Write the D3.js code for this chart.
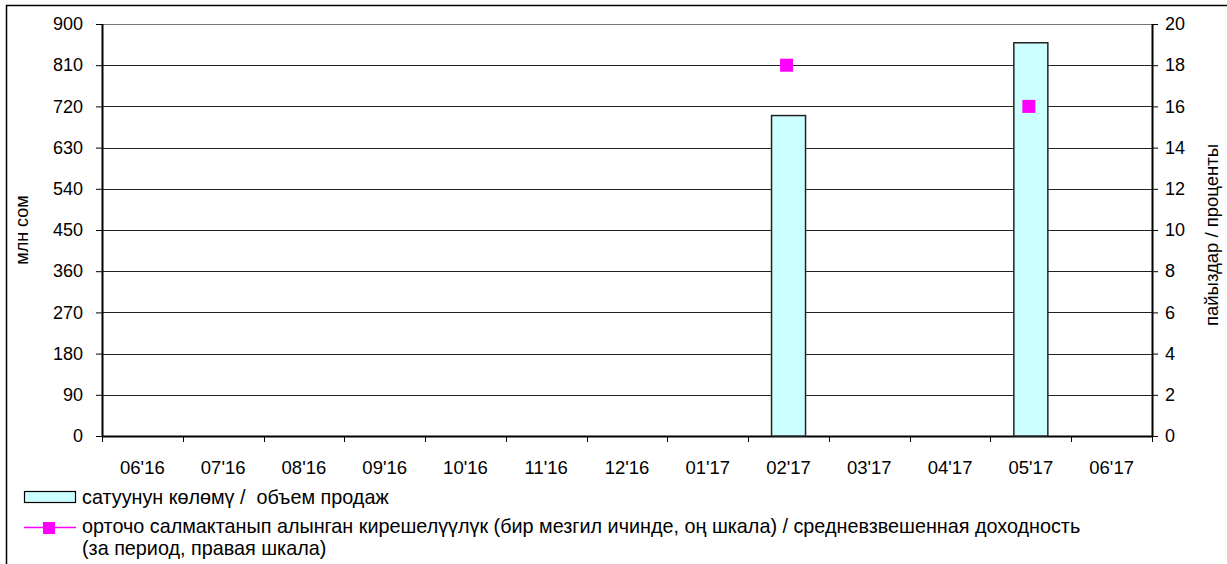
<!DOCTYPE html>
<html>
<head>
<meta charset="utf-8">
<script src="https://cdn.jsdelivr.net/npm/d3@7"></script>
<style>
  body { margin: 0; background: #fff; }
  svg { font-family: "Liberation Sans", Arial, sans-serif; }
  text { white-space: pre; }
</style>
</head>
<body>
<div class="canvas"></div>
<script>
// data
const categories = ["06'16", "07'16", "08'16", "09'16", "10'16", "11'16", "12'16",
  "01'17", "02'17", "03'17", "04'17", "05'17", "06'17"];
const salesVolume = [null, null, null, null, null, null, null, null, 700, null, null, 859, null];
const avgYield = [null, null, null, null, null, null, null, null, 18.0, null, null, 16.0, null];
const leftTicks = [0, 90, 180, 270, 360, 450, 540, 630, 720, 810, 900];
const rightTicks = [0, 2, 4, 6, 8, 10, 12, 14, 16, 18, 20];
const leftTitle = 'млн сом';
const rightTitle = 'пайыздар / проценты';
const barLegend = 'сатуунун көлөмү /  объем продаж';
const lineLegend = ['орточо салмактанып алынган кирешелүүлүк (бир мезгил ичинде, оң шкала) / средневзвешенная доходность',
  '(за период, правая шкала)'];

const width = 1227;
const height = 564;

const svg = d3.select('.canvas')
  .append('svg')
  .attr('width', width)
  .attr('height', height);

// outer frame (top + left edges visible)
svg.append('path')
  .attr('d', `M6.5,${height} V5.5 H${width}`)
  .attr('fill', 'none')
  .attr('stroke', '#000')
  .attr('stroke-width', 1.5);

/*--------------------------------
  SCALES
--------------------------------*/
const margin = { top: 24, right: 75, bottom: 128, left: 102 };
const plotW = width - margin.left - margin.right;
const plotH = height - margin.top - margin.bottom;

const x = d3.scaleBand()
  .domain(categories)
  .range([0, plotW])
  .paddingInner(0)
  .paddingOuter(0);

const yLeft = d3.scaleLinear().domain([0, 900]).range([plotH, 0]);
const yRight = d3.scaleLinear().domain([0, 20]).range([plotH, 0]);

const graph = svg.append('g')
  .attr('transform', `translate(${margin.left}, ${margin.top})`);

// gridlines
graph.append('g')
  .selectAll('line')
  .data(leftTicks.filter(d => d > 0))
  .join('line')
  .attr('x1', 0)
  .attr('x2', plotW)
  .attr('y1', d => Math.round(yLeft(d)) + 0.5)
  .attr('y2', d => Math.round(yLeft(d)) + 0.5)
  .attr('stroke', d => (d === 900 ? '#777' : '#222'))
  .attr('stroke-width', 1);

/*--------------------------------
  AXES
--------------------------------*/
const leftAxis = graph.append('g')
  .call(d3.axisLeft(yLeft).tickValues(leftTicks).tickSize(6).tickPadding(13));
const rightAxis = graph.append('g')
  .attr('transform', `translate(${plotW}, 0)`)
  .call(d3.axisRight(yRight).tickValues(rightTicks).tickSize(6).tickPadding(7));
const bottomAxis = graph.append('g')
  .attr('transform', `translate(0, ${plotH})`)
  .call(d3.axisBottom(x).tickSize(0).tickPadding(25));

[leftAxis, rightAxis, bottomAxis].forEach((g) => {
  g.select('.domain').attr('stroke', '#000').attr('stroke-width', 2);
  g.selectAll('.tick line').attr('stroke', '#000');
  g.selectAll('text')
    .attr('font-family', '"Liberation Sans", Arial, sans-serif')
    .attr('font-size', 18)
    .attr('fill', '#000');
});
bottomAxis.selectAll('text').attr('font-size', 18.5);
leftAxis.select('.domain').attr('d', `M0.5,0V${plotH}`);
rightAxis.select('.domain').attr('d', `M0.5,0V${plotH}`);
bottomAxis.select('.domain').attr('d', `M0,0.5H${plotW}`);

// category boundary ticks
graph.append('g')
  .selectAll('line')
  .data(categories.concat(['end']))
  .join('line')
  .attr('x1', (d, i) => Math.round(i * x.step()) + 0.5)
  .attr('x2', (d, i) => Math.round(i * x.step()) + 0.5)
  .attr('y1', plotH)
  .attr('y2', plotH + 6)
  .attr('stroke', '#000');

// axis titles
svg.append('text')
  .attr('transform', 'translate(28, 230) rotate(-90)')
  .attr('text-anchor', 'middle')
  .attr('font-size', 18)
  .text(leftTitle);

svg.append('text')
  .attr('transform', 'translate(1218, 235) rotate(-90)')
  .attr('text-anchor', 'middle')
  .attr('font-size', 18.5)
  .text(rightTitle);

/*--------------------------------
  BARS + MARKERS
--------------------------------*/
const barW = 34;
graph.append('g')
  .selectAll('rect')
  .data(categories.map((c, i) => ({ c, v: salesVolume[i] })).filter(d => d.v != null))
  .join('rect')
  .attr('x', d => x(d.c) + x.bandwidth() / 2 - barW / 2)
  .attr('y', d => yLeft(d.v))
  .attr('width', barW)
  .attr('height', d => plotH - yLeft(d.v))
  .attr('fill', '#ccffff')
  .attr('stroke', '#222')
  .attr('stroke-width', 1.5);

const mk = 13;
graph.append('g')
  .selectAll('rect')
  .data(categories.map((c, i) => ({ c, v: avgYield[i] })).filter(d => d.v != null))
  .join('rect')
  .attr('x', d => x(d.c) + x.bandwidth() / 2 - mk / 2 - 2)
  .attr('y', d => yRight(d.v) - mk / 2)
  .attr('width', mk)
  .attr('height', mk)
  .attr('fill', '#ff00ff');

/*--------------------------------
  LEGEND
--------------------------------*/
const legend = svg.append('g').attr('font-size', 19.8);

legend.append('rect')
  .attr('x', 24.5)
  .attr('y', 491.5)
  .attr('width', 51)
  .attr('height', 11)
  .attr('fill', '#ccffff')
  .attr('stroke', '#000')
  .attr('stroke-width', 1.2);
legend.append('text')
  .attr('x', 82)
  .attr('y', 504)
  .text(barLegend);

legend.append('line')
  .attr('x1', 24)
  .attr('x2', 76)
  .attr('y1', 527.5)
  .attr('y2', 527.5)
  .attr('stroke', '#ff00ff')
  .attr('stroke-width', 1.3);
legend.append('rect')
  .attr('x', 43)
  .attr('y', 522)
  .attr('width', 12)
  .attr('height', 12)
  .attr('fill', '#ff00ff');
legend.selectAll('text.l2')
  .data(lineLegend)
  .join('text')
  .attr('class', 'l2')
  .attr('x', 82)
  .attr('y', (d, i) => 533 + i * 22)
  .text(d => d);
</script>
</body>
</html>
